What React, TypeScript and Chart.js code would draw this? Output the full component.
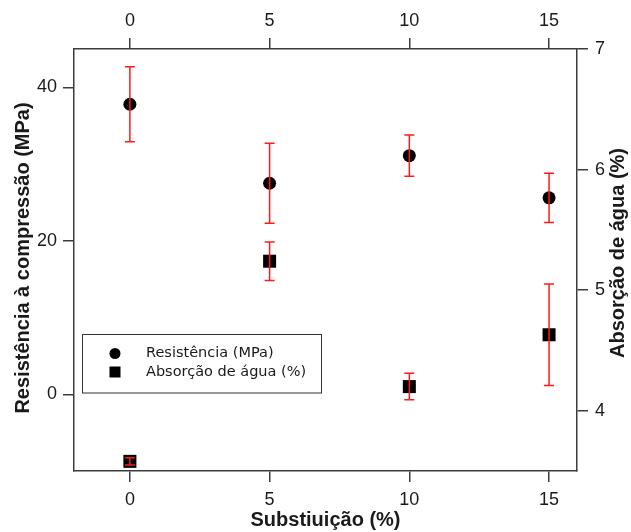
import React, { useEffect, useRef } from "react";
import { Chart, registerables } from "chart.js";

Chart.register(...registerables);

// ---- data ----
const substituicao = [0, 5, 10, 15];
const resistencia = [37.8, 27.5, 31.1, 25.6];
const resistenciaErro = [4.9, 5.2, 2.7, 3.2];
const absorcao = [3.58, 5.24, 4.2, 4.63];
const absorcaoErro = [0.03, 0.16, 0.11, 0.42];
const xTicks = [0, 5, 10, 15];
const yLeftTicks = [0, 20, 40];
const yRightTicks = [4, 5, 6, 7];
const xTitle = "Substiuição (%)";
const yLeftTitle = "Resistência à compressão (MPa)";
const yRightTitle = "Absorção de água (%)";
const legendLabels = ["Resistência (MPa)", "Absorção de água (%)"];

const axisColor = "#3c3c3c";
const textColor = "#1a1a1a";
const errColor = "#ff1a1a";
const tickFont = { family: "'Liberation Sans', Arial, sans-serif", size: 18 };

function makeAxis(
  position: string,
  min: number,
  max: number,
  tickVals: number[],
  size: number,
  padding: number
) {
  const horizontal = position === "top" || position === "bottom";
  return {
    type: "linear",
    position,
    min,
    max,
    afterBuildTicks: (s: any) => {
      s.ticks = tickVals.map((v) => ({ value: v }));
    },
    afterFit: (s: any) => {
      if (horizontal) s.height = size;
      else s.width = size;
    },
    grid: {
      display: true,
      drawOnChartArea: false,
      drawTicks: true,
      tickLength: 11,
      tickWidth: 1.5,
      tickColor: axisColor,
      color: axisColor,
      lineWidth: 1.5,
    },
    border: { display: true, color: axisColor, width: 1.5 },
    ticks: {
      color: textColor,
      font: tickFont,
      padding,
      maxRotation: 0,
      autoSkip: false,
    },
  };
}

const extrasPlugin = {
  id: "extras",
  afterDatasetsDraw(chart: any) {
    const ctx = chart.ctx;
    const xs = chart.scales.x;
    const draws = [
      { vals: resistencia, errs: resistenciaErro, scale: chart.scales.y },
      { vals: absorcao, errs: absorcaoErro, scale: chart.scales.y2 },
    ];
    ctx.save();
    ctx.strokeStyle = errColor;
    ctx.lineWidth = 1.5;
    for (const d of draws) {
      d.vals.forEach((v, i) => {
        const px = xs.getPixelForValue(substituicao[i]);
        const top = d.scale.getPixelForValue(v + d.errs[i]);
        const bot = d.scale.getPixelForValue(v - d.errs[i]);
        ctx.beginPath();
        ctx.moveTo(px, top);
        ctx.lineTo(px, bot);
        ctx.moveTo(px - 5, top);
        ctx.lineTo(px + 5, top);
        ctx.moveTo(px - 5, bot);
        ctx.lineTo(px + 5, bot);
        ctx.stroke();
      });
    }
    ctx.restore();
  },
  afterDraw(chart: any) {
    const ctx = chart.ctx;
    const area = chart.chartArea;
    ctx.save();
    // axis titles
    ctx.fillStyle = textColor;
    ctx.font = "bold 20px 'Liberation Sans', Arial, sans-serif";
    ctx.textAlign = "center";
    ctx.textBaseline = "middle";
    ctx.fillText(xTitle, (area.left + area.right) / 2, 520);

    ctx.save();
    ctx.translate(23, 258);
    ctx.rotate(-Math.PI / 2);
    ctx.fillText(yLeftTitle, 0, 0);
    ctx.restore();

    ctx.save();
    ctx.translate(618, 253);
    ctx.rotate(-Math.PI / 2);
    ctx.fillText(yRightTitle, 0, 0);
    ctx.restore();

    // legend
    const lx = area.left + 8;
    const ly = 334.5;
    ctx.strokeStyle = "#333";
    ctx.lineWidth = 1;
    ctx.strokeRect(Math.round(lx) + 0.5, ly, 239, 58.5);
    ctx.fillStyle = "#000";
    ctx.beginPath();
    ctx.arc(lx + 33, 353.5, 5.5, 0, Math.PI * 2);
    ctx.fill();
    ctx.fillRect(lx + 33 - 5.5, 372 - 5.5, 11, 11);
    ctx.fillStyle = textColor;
    ctx.font = "14.5px 'DejaVu Sans', sans-serif";
    ctx.textAlign = "left";
    ctx.textBaseline = "middle";
    ctx.fillText(legendLabels[0], lx + 64, 353.5);
    ctx.fillText(legendLabels[1], lx + 64, 372);
    ctx.restore();
  },
};

export default function App() {
  const ref = useRef<HTMLCanvasElement | null>(null);
  useEffect(() => {
    if (!ref.current) return;
    const chart = new Chart(ref.current, {
      type: "scatter",
      data: {
        datasets: [
          {
            label: legendLabels[0],
            data: substituicao.map((x, i) => ({ x, y: resistencia[i] })),
            xAxisID: "x",
            yAxisID: "y",
            pointStyle: "circle",
            pointRadius: 6.5,
            backgroundColor: "#000",
            borderColor: "#000",
            borderWidth: 0,
            showLine: false,
          },
          {
            label: legendLabels[1],
            data: substituicao.map((x, i) => ({ x, y: absorcao[i] })),
            xAxisID: "x",
            yAxisID: "y2",
            pointStyle: "rect",
            pointRadius: 9.2,
            backgroundColor: "#000",
            borderColor: "#000",
            borderWidth: 0,
            showLine: false,
          },
        ],
      },
      options: {
        responsive: false,
        devicePixelRatio: 1,
        animation: false,
        layout: { padding: 0 },
        plugins: {
          legend: { display: false },
          tooltip: { enabled: false },
        },
        scales: {
          x: makeAxis("bottom", -2, 16, xTicks, 61, 7) as any,
          x2: makeAxis("top", -2, 16, xTicks, 49, 6) as any,
          y: makeAxis("left", -10, 45, yLeftTicks, 74, 6) as any,
          y2: makeAxis("right", 3.5, 7, yRightTicks, 54, 7) as any,
        },
      },
      plugins: [extrasPlugin],
    });
    return () => chart.destroy();
  }, []);
  return (
    <div
      style={{
        position: "fixed",
        left: 0,
        top: 0,
        width: 631,
        height: 532,
        background: "#fff",
      }}
    >
      <canvas ref={ref} width={631} height={532} style={{ width: 631, height: 532 }} />
    </div>
  );
}
